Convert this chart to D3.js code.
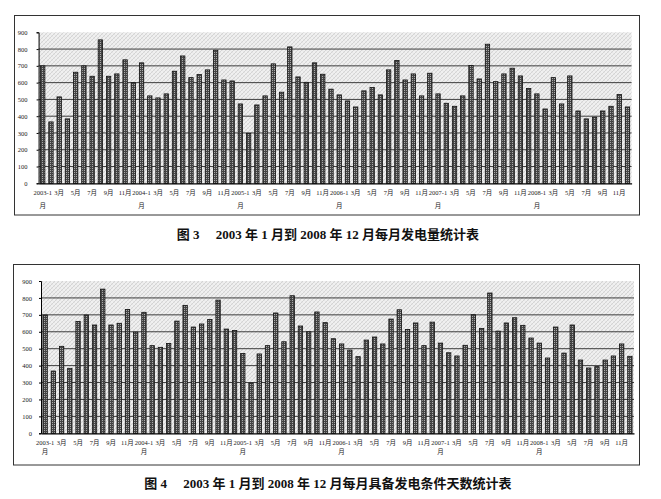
<!DOCTYPE html>
<html><head><meta charset="utf-8">
<script src="https://cdn.jsdelivr.net/npm/d3@7"></script>
<style>
html,body{margin:0;padding:0;background:#fff;}
svg{display:block;}
</style></head>
<body>
<svg id="c" width="661" height="499"></svg>
<script>
// ---- data ----
const years = [2003, 2004, 2005, 2006, 2007, 2008];
const monthNums = [1,2,3,4,5,6,7,8,9,10,11,12];
const categories = years.flatMap(y => monthNums.map(m => y + "-" + m));
const yTicks = [0,100,200,300,400,500,600,700,800,900];
const gridValues = [100,200,300,400,500,600,700,800];
// Fig. 3: monthly generation
const generation = [
 700,366,515,384,662,700,638,855,638,652,736,600,
 718,521,509,533,668,759,630,648,676,793,616,610,
 473,298,467,521,712,543,813,634,602,718,650,561,
 527,491,455,551,571,527,676,732,616,652,521,656,
 533,477,459,521,702,622,829,606,652,686,640,565,
 533,443,630,473,640,431,384,394,431,459,529,455];
// Fig. 4: monthly days with generating conditions
const availableDays = [
 699,368,514,384,661,699,640,852,640,650,732,598,
 715,518,508,531,663,756,628,646,673,787,616,608,
 472,297,469,518,711,541,813,634,600,717,654,559,
 528,492,453,551,569,528,675,730,614,652,518,657,
 533,476,457,520,701,620,829,604,652,683,638,563,
 533,445,628,474,640,433,386,394,433,457,528,455];
const captions = [
 "图 3\u2003 2003 年 1 月到 2008 年 12 月每月发电量统计表",
 "图 4\u2003 2003 年 1 月到 2008 年 12 月每月具备发电条件天数统计表"];

const svg = d3.select("#c");
const defs = svg.append("defs");
// hatched background
const hp = defs.append("pattern").attr("id","hatch").attr("patternUnits","userSpaceOnUse")
  .attr("width",4).attr("height",4);
hp.append("rect").attr("width",4).attr("height",4).attr("fill","#f0f0f0");
hp.append("path").attr("d","M0,4 L4,0 M-1,1 L1,-1 M3,5 L5,3").attr("stroke","#c8c8c8").attr("stroke-width",0.7);
hp.append("path").attr("d","M0,0 L4,4").attr("stroke","#dddddd").attr("stroke-width",0.5);
// bar texture
const bp = defs.append("pattern").attr("id","barfill").attr("patternUnits","userSpaceOnUse")
  .attr("width",2).attr("height",2);
bp.append("rect").attr("width",2).attr("height",2).attr("fill","#454545");
bp.append("rect").attr("width",1).attr("height",1).attr("fill","#ababab");

const serif = "'Liberation Serif','Times New Roman','Noto Sans CJK SC',serif";

function drawChart(cfg, values, caption) {
  const g = svg.append("g");
  g.append("rect").attr("x",cfg.box[0]).attr("y",cfg.box[1]).attr("width",cfg.box[2]).attr("height",cfg.box[3])
    .attr("fill","none").attr("stroke","#333").attr("stroke-width",1);
  const x = d3.scaleBand().domain(categories).range([cfg.left,cfg.right]).paddingInner(0.47).paddingOuter(0.235);
  const y = d3.scaleLinear().domain([0,900]).range([cfg.bottom,cfg.top]);
  g.append("rect").attr("x",cfg.left).attr("y",cfg.top).attr("width",cfg.right-cfg.left).attr("height",cfg.bottom-cfg.top)
    .attr("fill","url(#hatch)");
  g.selectAll("line.grid").data(gridValues).join("line").attr("class","grid")
    .attr("x1",cfg.left).attr("x2",cfg.right).attr("y1",d=>y(d)).attr("y2",d=>y(d))
    .attr("stroke","#2a2a2a").attr("stroke-width",0.9);
  g.selectAll("rect.bar").data(values).join("rect").attr("class","bar")
    .attr("x",(d,i)=>x(categories[i])).attr("width",x.bandwidth())
    .attr("y",d=>y(d)).attr("height",d=>y(0)-y(d))
    .attr("fill","url(#barfill)").attr("stroke","#111").attr("stroke-width",0.8);
  // y axis
  const ya = g.append("g").attr("transform",`translate(${cfg.left},0)`)
    .call(d3.axisLeft(y).tickValues(yTicks).tickSize(2).tickPadding(cfg.ypad));
  ya.select(".domain").attr("stroke","#000").attr("stroke-width",1);
  ya.selectAll("text").attr("font-family",serif).attr("font-size",6.5).attr("fill","#222");
  // x axis
  const xa = g.append("g").attr("transform",`translate(0,${cfg.bottom})`)
    .call(d3.axisBottom(x).tickSize(0).tickFormat(""));
  xa.select(".domain").attr("stroke","#000").attr("stroke-width",1.2);
  const labelled = categories.filter((c,i)=> i%2===0);
  const lab = g.selectAll("text.xl").data(labelled).join("text").attr("class","xl")
    .attr("x",d=>x(d)+x.bandwidth()/2).attr("y",cfg.xl1)
    .attr("text-anchor","middle").attr("font-family",serif).attr("font-size",6.5).attr("fill","#222");
  lab.each(function(d){
    const [yr,m] = d.split("-");
    const t = d3.select(this);
    if (m === "1") {
      t.append("tspan").text(yr + "-1");
      t.append("tspan").attr("x",t.attr("x")).attr("y",cfg.xl2).text("月");
    } else {
      t.text(m + "月");
    }
  });
  svg.append("text").attr("x",328).attr("y",cfg.capY).attr("text-anchor","middle")
    .attr("font-family",serif).attr("font-weight","bold").attr("font-size",13).attr("fill","#111")
    .style("white-space","pre").text(caption);
}

drawChart({box:[14.5,15.5,625,199.5], left:38.6, right:631.6, top:32.3, bottom:183.3, ypad:9, xl1:195, xl2:207.5, capY:239}, generation, captions[0]);
drawChart({box:[13.5,264.5,626,200.5], left:41, right:634, top:281, bottom:433.3, ypad:7, xl1:444.5, xl2:454, capY:488}, availableDays, captions[1]);
</script>
</body></html>
